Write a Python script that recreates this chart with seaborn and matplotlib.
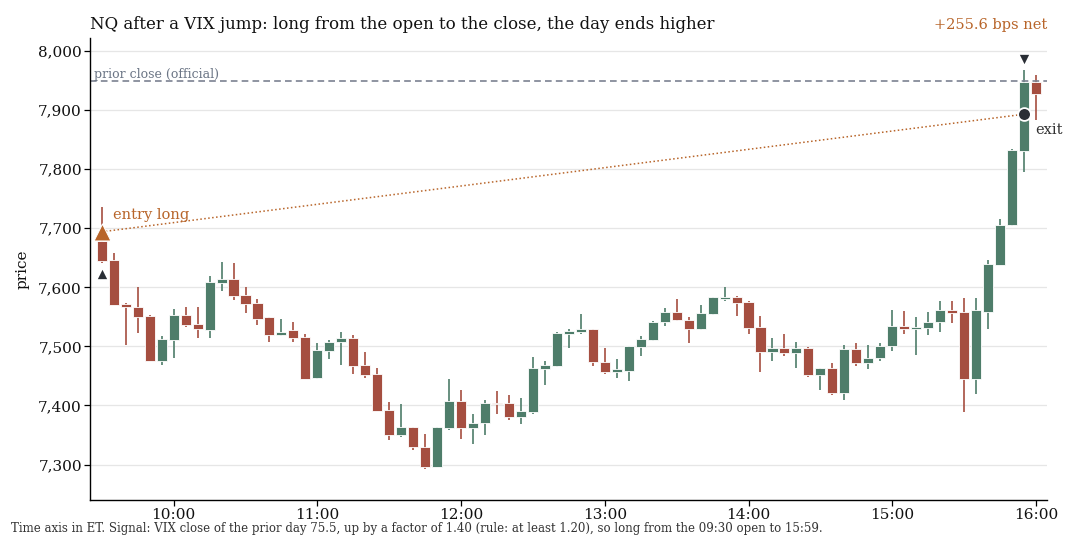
import numpy as np
import pandas as pd
import matplotlib
matplotlib.use("Agg")
import matplotlib.pyplot as plt
from matplotlib.ticker import StrMethodFormatter
import seaborn as sns

# ---- data ----
opens = [7679, 7646, 7572, 7567, 7552, 7476, 7511, 7553, 7538, 7528,
         7608, 7614, 7587, 7574, 7549, 7519, 7527, 7516, 7446, 7492,
         7507, 7514, 7468, 7453, 7392, 7350, 7363, 7330, 7296, 7362,
         7408, 7362, 7370, 7404, 7404, 7381, 7389, 7462, 7467, 7521,
         7524, 7529, 7473, 7457, 7458, 7499, 7510, 7541, 7559, 7545,
         7529, 7554, 7581, 7583, 7575, 7533, 7490, 7497, 7489, 7498,
         7452, 7463, 7421, 7496, 7472, 7480, 7500, 7534, 7529, 7531,
         7541, 7561, 7559, 7445, 7559, 7638, 7705, 7830, 7948]
highs = [7736, 7658, 7573, 7601, 7553, 7517, 7563, 7567, 7567, 7619,
         7643, 7641, 7600, 7580, 7549, 7546, 7542, 7521, 7506, 7511,
         7524, 7519, 7490, 7464, 7406, 7402, 7364, 7352, 7364, 7444,
         7426, 7385, 7409, 7424, 7418, 7413, 7482, 7475, 7524, 7530,
         7554, 7529, 7498, 7478, 7500, 7517, 7543, 7565, 7580, 7549,
         7570, 7584, 7600, 7585, 7576, 7552, 7515, 7521, 7507, 7499,
         7464, 7472, 7502, 7505, 7502, 7505, 7562, 7560, 7549, 7558,
         7576, 7576, 7582, 7582, 7646, 7716, 7834, 7968, 7959]
lows = [7642, 7570, 7502, 7522, 7475, 7468, 7481, 7532, 7515, 7514,
        7594, 7579, 7556, 7536, 7508, 7518, 7507, 7444, 7445, 7479,
        7468, 7453, 7447, 7390, 7341, 7347, 7324, 7293, 7295, 7358,
        7344, 7335, 7350, 7386, 7375, 7368, 7386, 7434, 7465, 7498,
        7521, 7466, 7454, 7446, 7441, 7483, 7509, 7534, 7543, 7505,
        7528, 7553, 7576, 7551, 7521, 7456, 7476, 7484, 7464, 7449,
        7427, 7417, 7409, 7467, 7461, 7475, 7492, 7521, 7485, 7520,
        7524, 7539, 7389, 7419, 7529, 7638, 7704, 7795, 7884]
closes = [7644, 7570, 7566, 7550, 7476, 7513, 7553, 7536, 7529, 7609,
          7614, 7585, 7572, 7547, 7519, 7525, 7515, 7445, 7494, 7508,
          7514, 7467, 7451, 7391, 7350, 7364, 7329, 7296, 7363, 7408,
          7362, 7370, 7404, 7402, 7381, 7391, 7463, 7468, 7523, 7526,
          7529, 7474, 7457, 7461, 7500, 7512, 7542, 7559, 7544, 7529,
          7556, 7583, 7583, 7573, 7531, 7490, 7497, 7489, 7498, 7451,
          7463, 7421, 7496, 7472, 7481, 7501, 7534, 7529, 7532, 7542,
          7561, 7557, 7444, 7561, 7640, 7706, 7833, 7948, 7928]
bar_start = "09:30"
bar_minutes = 5

tick_labels = ["10:00", "11:00", "12:00", "13:00", "14:00", "15:00", "16:00"]

prior_close = 7949
entry_price = 7694
exit_price = 7893
entry_bar = 0
exit_bar = 77
net_bps = 255.6

title = "NQ after a VIX jump: long from the open to the close, the day ends higher"
footnote = ("Time axis in ET. Signal: VIX close of the prior day 75.5, up by a factor of 1.40 "
            "(rule: at least 1.20), so long from the 09:30 open to 15:59.")

# ---- styling ----
sns.set_theme(style="ticks")
plt.rcParams["font.family"] = ["DejaVu Serif", "DejaVu Sans"]

UP = "#4e7d6a"
DOWN = "#a54e40"
ORANGE = "#b8652a"
DARK = "#2a2e35"
GRAY = "#7b8291"


def to_min(s):
    h, m = s.split(":")
    return int(h) * 60 + int(m)


n = len(opens)
t0 = to_min(bar_start)
df = pd.DataFrame({
    "t": [t0 + bar_minutes * i for i in range(n)],
    "open": opens, "high": highs, "low": lows, "close": closes,
})
df["up"] = df["close"] >= df["open"]
df["color"] = np.where(df["up"], UP, DOWN)
df["bottom"] = df[["open", "close"]].min(axis=1)
df["height"] = (df["close"] - df["open"]).abs().clip(lower=1.6)

fig = plt.figure(figsize=(10.8, 5.4), dpi=100)
ax = fig.add_axes([0.0836, 0.0741, 0.8856, 0.8555])

ax.yaxis.grid(True, color="#e6e6e6", lw=0.9)
ax.xaxis.grid(False)
ax.set_axisbelow(True)

# wicks
ax.vlines(df["t"], df["low"], df["high"], colors=df["color"], lw=1.2, zorder=2)
# bodies
ax.bar(df["t"], df["height"], bottom=df["bottom"], width=4.2,
       color=df["color"], edgecolor="white", linewidth=0.6, zorder=3)

# prior close
ax.axhline(prior_close, color=GRAY, lw=1.2, ls=(0, (4, 2.5)), zorder=2)

# entry -> exit dotted path
te = df["t"].iloc[entry_bar]
tx = df["t"].iloc[exit_bar]
ax.plot([te, tx], [entry_price, exit_price], color=ORANGE, lw=1.1,
        ls=(0, (1, 1.6)), zorder=4)

marks = pd.DataFrame({"t": [te], "p": [entry_price]})
sns.scatterplot(data=marks, x="t", y="p", marker="^", s=150, color=ORANGE,
                edgecolor="white", linewidth=0.8, zorder=6, ax=ax, legend=False)
marks_x = pd.DataFrame({"t": [tx], "p": [exit_price]})
sns.scatterplot(data=marks_x, x="t", y="p", marker="o", s=85, color=DARK,
                edgecolor="white", linewidth=1.3, zorder=6, ax=ax, legend=False)

# signal markers
ax.scatter([te], [df["low"].iloc[entry_bar] - 20], marker="^", s=45, color=DARK,
           zorder=6, linewidths=0)
ax.scatter([tx], [df["high"].iloc[exit_bar] + 19], marker="v", s=45, color=DARK,
           zorder=6, linewidths=0)

ax.text(te + 4.5, entry_price + 29, "entry long", color=ORANGE, fontsize=10.5,
        va="center", ha="left", zorder=7)
ax.text(tx + 4.5, exit_price - 27, "exit", color="#333333", fontsize=10.5,
        va="center", ha="left", zorder=7)
ax.text(566.8, prior_close - 0.5, "prior close (official)", color="#6b7585",
        fontsize=9, va="bottom", ha="left", zorder=7)

# axes
ax.set_xlim(565.2, 964.5)
ax.set_ylim(7240, 8022)
ax.set_xticks([to_min(s) for s in tick_labels])
ax.set_xticklabels(tick_labels)
ax.yaxis.set_major_formatter(StrMethodFormatter("{x:,.0f}"))
ax.tick_params(axis="both", labelsize=11, length=4, width=0.9, color="black",
               labelcolor="#111111", pad=2)
ax.set_xlabel("")
ax.set_ylabel("price", fontsize=11, color="#111111", labelpad=6)
for s in ["left", "bottom"]:
    ax.spines[s].set_color("black")
    ax.spines[s].set_linewidth(1.0)
sns.despine(ax=ax)

fig.text(0.0833, 0.954, title, fontsize=12, ha="left", va="center", color="#111111")
fig.text(0.9694, 0.954, f"+{net_bps:.1f} bps net", fontsize=10.5, ha="right",
         va="center", color=ORANGE)
fig.text(0.0102, 0.022, footnote, fontsize=8.5, ha="left", va="center", color="#333333")

fig.savefig("out.png", dpi=100)
